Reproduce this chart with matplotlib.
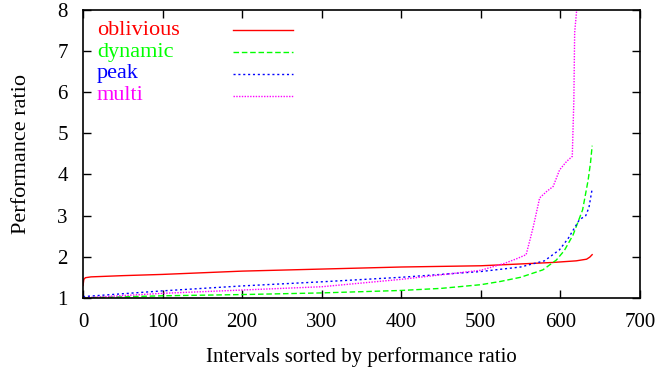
import matplotlib
matplotlib.use("Agg")
import matplotlib.pyplot as plt

# values (x = interval index, y = performance ratio)
oblivious_x = [0, 1, 3, 10, 50, 100, 200, 300, 400, 500, 590, 620, 633, 637, 640]
oblivious_y = [1.30, 1.45, 1.49, 1.51, 1.54, 1.57, 1.65, 1.70, 1.75, 1.78, 1.86, 1.90, 1.94, 1.99, 2.05]

dynamic_x = [0, 100, 200, 300, 400, 450, 500, 525, 550, 578, 595, 605, 616, 628, 635, 638, 640]
dynamic_y = [1.0, 1.05, 1.08, 1.12, 1.18, 1.23, 1.32, 1.40, 1.50, 1.68, 1.92, 2.15, 2.53, 3.14, 3.87, 4.3, 4.7]

peak_x = [0, 100, 200, 300, 400, 500, 550, 580, 599, 610, 624, 632, 636, 640]
peak_y = [1.03, 1.17, 1.29, 1.39, 1.50, 1.64, 1.75, 1.90, 2.17, 2.45, 2.9, 3.0, 3.2, 3.65]

multi_x = [0, 100, 200, 300, 400, 500, 530, 545, 557, 563, 566, 574, 583, 591, 599, 608, 615, 617, 618, 621]
multi_y = [1.0, 1.11, 1.19, 1.27, 1.45, 1.67, 1.84, 1.95, 2.05, 2.5, 2.73, 3.43, 3.59, 3.71, 4.11, 4.32, 4.44, 5.82, 7.45, 8.1]

labels = ['oblivious', 'dynamic', 'peak', 'multi']
colors = ['#ff0000', '#00ff00', '#0000ff', '#ff00ff']
styles = ['-', (0, (4, 2)), (0, (1.5, 2)), (0, (1, 1))]

x_ticks = [0, 100, 200, 300, 400, 500, 600, 700]
y_ticks = [1, 2, 3, 4, 5, 6, 7, 8]

plt.rcParams['font.family'] = ['Liberation Serif', 'DejaVu Serif']
plt.rcParams['font.size'] = 15

fig = plt.figure(figsize=(6.59, 3.70), dpi=100)
ax = fig.add_axes([0.126, 0.195, 0.845, 0.778])

series = [(oblivious_x, oblivious_y), (dynamic_x, dynamic_y), (peak_x, peak_y), (multi_x, multi_y)]
for (xs, ys), c, ls in zip(series, colors, styles):
    ax.plot(xs, ys, color=c, lw=1.0, ls=ls)

# gnuplot style key: text left aligned, sample lines in a column to the right
for i, (lab, c, ls) in enumerate(zip(labels, colors, styles)):
    yk = 0.93 - i * 0.076
    ax.text(0.025, yk, lab, color=c, transform=ax.transAxes, va='center', ha='left', fontsize=16)
    ax.plot([0.269, 0.377], [yk, yk], color=c, lw=1.0, ls=ls, transform=ax.transAxes)

ax.set_xlim(0, 700)
ax.set_ylim(1, 8)
ax.set_xticks(x_ticks)
ax.set_yticks(y_ticks)
ax.tick_params(direction='in', length=6, width=1, top=True, right=True)
ax.tick_params(axis='x', pad=11)
ax.tick_params(axis='y', pad=11)
for s in ax.spines.values():
    s.set_linewidth(1.2)

ax.set_xlabel('Intervals sorted by performance ratio', labelpad=11)
ax.set_ylabel('Performance ratio', labelpad=19, fontsize=16)

fig.savefig('out.png', dpi=100)
